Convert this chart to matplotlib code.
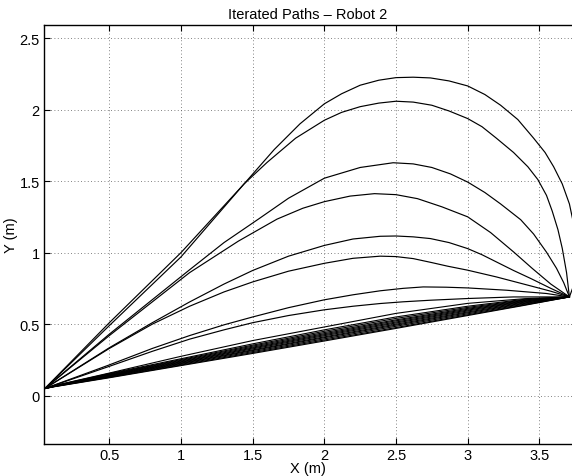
import matplotlib
matplotlib.use("Agg")
import matplotlib.pyplot as plt

plt.rcParams['font.family'] = ['Liberation Sans', 'DejaVu Sans']

title = "Iterated Paths \u2013 Robot 2"
x_label = "X (m)"
y_label = "Y (m)"
x_ticks = [0.5, 1, 1.5, 2, 2.5, 3, 3.5]
x_tick_labels = ["0.5", "1", "1.5", "2", "2.5", "3", "3.5"]
y_ticks = [0, 0.5, 1, 1.5, 2, 2.5]
y_tick_labels = ["0", "0.5", "1", "1.5", "2", "2.5"]

# Large-bulge paths (x, y)
path_A_x = [0.05, 0.5, 1.0, 1.44, 1.65, 1.83, 2.0, 2.12, 2.25, 2.38, 2.5, 2.62, 2.74, 2.87, 3.0,
            3.12, 3.23, 3.35, 3.46, 3.54, 3.6, 3.66, 3.71, 3.75, 3.76, 3.75, 3.71]
path_A_y = [0.05, 0.49, 0.97, 1.48, 1.72, 1.90, 2.04, 2.11, 2.17, 2.205, 2.223, 2.226, 2.221, 2.20, 2.165,
            2.105, 2.03, 1.93, 1.80, 1.70, 1.60, 1.48, 1.34, 1.15, 0.95, 0.80, 0.69]
path_B_x = [0.05, 0.5, 1.0, 1.44, 1.6, 1.8, 2.0, 2.12, 2.25, 2.38, 2.5, 2.62, 2.75, 2.87, 3.0,
            3.1, 3.2, 3.32, 3.42, 3.49, 3.55, 3.59, 3.63, 3.66, 3.69, 3.71]
path_B_y = [0.05, 0.51, 1.0, 1.48, 1.63, 1.80, 1.925, 1.98, 2.02, 2.045, 2.058, 2.052, 2.03, 1.99, 1.937,
            1.88, 1.80, 1.70, 1.60, 1.51, 1.40, 1.29, 1.16, 1.03, 0.86, 0.69]
path_C_x = [0.05, 0.5, 1.06, 1.3, 1.54, 1.75, 2.0, 2.25, 2.48, 2.62, 2.75, 2.88, 3.0, 3.12, 3.23,
            3.37, 3.46, 3.55, 3.62, 3.67, 3.71]
path_C_y = [0.05, 0.43, 0.88, 1.07, 1.234, 1.38, 1.52, 1.595, 1.628, 1.62, 1.595, 1.55, 1.493, 1.42, 1.34,
            1.23, 1.13, 1.003, 0.89, 0.79, 0.69]
path_D_x = [0.05, 0.5, 1.06, 1.4, 1.67, 1.85, 2.0, 2.18, 2.35, 2.5, 2.65, 2.82, 3.0, 3.16, 3.32,
            3.45, 3.58, 3.71]
path_D_y = [0.05, 0.42, 0.86, 1.08, 1.234, 1.31, 1.356, 1.395, 1.412, 1.405, 1.377, 1.32, 1.25, 1.14, 1.005,
            0.89, 0.78, 0.69]
path_E_x = [0.05, 0.5, 0.8, 1.06, 1.3, 1.5, 1.75, 2.0, 2.2, 2.39, 2.5, 2.62, 2.74, 2.87, 3.0, 3.1,
            3.2, 3.32, 3.44, 3.58, 3.71]
path_E_y = [0.05, 0.335, 0.51, 0.655, 0.78, 0.875, 0.975, 1.05, 1.095, 1.114, 1.116, 1.11, 1.098, 1.07, 1.028, 0.985,
            0.935, 0.875, 0.819, 0.75, 0.69]
path_F_x = [0.05, 0.5, 0.8, 1.06, 1.3, 1.5, 1.75, 2.0, 2.2, 2.39, 2.5, 2.62, 2.75, 2.86, 3.0, 3.2,
            3.44, 3.58, 3.71]
path_F_y = [0.05, 0.33, 0.50, 0.625, 0.725, 0.795, 0.87, 0.925, 0.96, 0.975, 0.972, 0.958, 0.93, 0.905, 0.877, 0.83,
            0.767, 0.73, 0.69]
path_G_x = [0.05, 0.5, 0.8, 1.06, 1.3, 1.5, 1.75, 2.0, 2.2, 2.39, 2.55, 2.69, 2.85, 3.0, 3.27, 3.55, 3.71]
path_G_y = [0.05, 0.215, 0.33, 0.42, 0.495, 0.55, 0.615, 0.67, 0.705, 0.733, 0.75, 0.76, 0.758, 0.753, 0.737, 0.714, 0.69]
path_H_x = [0.05, 0.5, 0.8, 1.06, 1.3, 1.5, 1.75, 2.0, 2.2, 2.39, 2.55, 2.74, 3.0, 3.32, 3.71]
path_H_y = [0.05, 0.205, 0.31, 0.395, 0.46, 0.51, 0.56, 0.6, 0.625, 0.644, 0.656, 0.667, 0.679, 0.69, 0.69]

# Near-straight bundle: shared x stations, one y list per path
bundle_x = [0.05, 0.12, 0.5, 1.0, 1.5, 2.0, 2.5, 3.0, 3.4, 3.71]
bundle_y = [
    [0.05, 0.063, 0.125, 0.210, 0.295, 0.382, 0.470, 0.560, 0.632, 0.69],
    [0.05, 0.064, 0.128, 0.214, 0.301, 0.389, 0.476, 0.565, 0.635, 0.69],
    [0.05, 0.065, 0.131, 0.219, 0.308, 0.397, 0.485, 0.572, 0.640, 0.69],
    [0.05, 0.066, 0.134, 0.224, 0.315, 0.405, 0.493, 0.579, 0.645, 0.69],
    [0.05, 0.066, 0.137, 0.228, 0.320, 0.411, 0.500, 0.585, 0.649, 0.69],
    [0.05, 0.067, 0.140, 0.233, 0.327, 0.419, 0.508, 0.592, 0.654, 0.69],
    [0.05, 0.067, 0.142, 0.237, 0.333, 0.426, 0.515, 0.598, 0.658, 0.69],
    [0.05, 0.068, 0.145, 0.242, 0.339, 0.433, 0.523, 0.604, 0.662, 0.69],
    [0.05, 0.068, 0.148, 0.247, 0.346, 0.441, 0.530, 0.610, 0.666, 0.69],
    [0.05, 0.069, 0.151, 0.252, 0.353, 0.450, 0.540, 0.617, 0.670, 0.69],
    [0.05, 0.070, 0.155, 0.258, 0.362, 0.460, 0.550, 0.625, 0.674, 0.69],
    [0.05, 0.071, 0.158, 0.275, 0.385, 0.480, 0.575, 0.645, 0.678, 0.69],
]

fig = plt.figure(figsize=(5.72, 4.77), dpi=100)
ax = fig.add_axes([44 / 572, 1 - 445 / 477, 1 - 44 / 572, (445 - 25.7) / 477])

big_paths = [
    (path_A_x, path_A_y), (path_B_x, path_B_y), (path_C_x, path_C_y),
    (path_D_x, path_D_y), (path_E_x, path_E_y), (path_F_x, path_F_y),
    (path_G_x, path_G_y), (path_H_x, path_H_y),
]
for px, py in big_paths:
    ax.plot(px, py, color='black', linewidth=0.85)
for by in bundle_y:
    ax.plot(bundle_x, by, color='black', linewidth=0.8)

ax.set_xlim(0.044, 3.728)
ax.set_ylim(-0.338, 2.593)
ax.set_xticks(x_ticks)
ax.set_xticklabels(x_tick_labels)
ax.set_yticks(y_ticks)
ax.set_yticklabels(y_tick_labels)
ax.grid(True, color='0.35', linestyle=(0, (1, 3)), linewidth=0.6)
ax.tick_params(direction='in', length=4, width=0.8, labelsize=10.5,
               top=True, right=False, pad=3)
ax.spines['right'].set_visible(False)
for s in ['left', 'top', 'bottom']:
    ax.spines[s].set_linewidth(1.0)

ax.set_title(title, fontsize=10.5, pad=5)
ax.set_xlabel(x_label, fontsize=10.5, labelpad=-1)
ax.set_ylabel(y_label, fontsize=10.5, labelpad=1)

fig.savefig("out.png", dpi=100)
